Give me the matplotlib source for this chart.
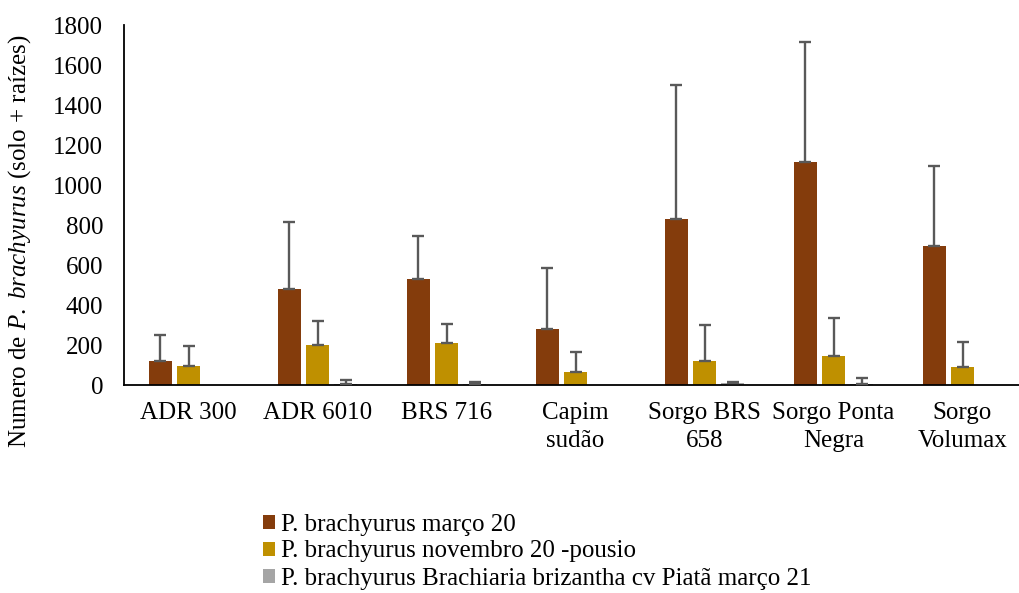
import matplotlib.pyplot as plt
import numpy as np

plt.rcParams['font.family'] = ['Liberation Serif', 'DejaVu Serif']
plt.rcParams['mathtext.fontset'] = 'custom'
plt.rcParams['mathtext.rm'] = 'Liberation Serif'
plt.rcParams['mathtext.it'] = 'Liberation Serif:italic'

# cultivares
categorias = ['ADR 300', 'ADR 6010', 'BRS 716', 'Capim\nsudão',
              'Sorgo BRS\n658', 'Sorgo Ponta\nNegra', 'Sorgo\nVolumax']

# médias e desvios (parte superior) de cada avaliação
marco20 = [120, 480, 528, 280, 832, 1115, 697]
marco20_erro = [130, 335, 215, 305, 668, 600, 398]
nov20 = [95, 200, 210, 65, 120, 143, 90]
nov20_erro = [100, 120, 93, 100, 182, 190, 127]
piata21 = [0, 5, 5, 0, 10, 5, 0]
piata21_erro = [0, 18, 12, 0, 6, 28, 0]

series = [
    ('P. brachyurus março 20', marco20, marco20_erro, '#843C0C'),
    ('P. brachyurus novembro 20 -pousio', nov20, nov20_erro, '#BF9000'),
    ('P. brachyurus Brachiaria brizantha cv Piatã março 21', piata21, piata21_erro, '#A5A5A5'),
]

fig = plt.figure(figsize=(10.19, 5.93), dpi=100)
W, H = 1019, 593
ax = fig.add_axes([124 / W, 1 - 385 / H, (1027 - 124) / W, (385 - 25) / H])

x = np.arange(len(categorias))
passo = 0.218
largura = 0.178
for i, (nome, vals, erro, cor) in enumerate(series):
    pos = x + (i - 1) * passo
    ax.bar(pos, vals, width=largura, color=cor, label=nome, zorder=2)
    vals = np.array(vals)
    erro = np.array(erro)
    mask = (vals > 0) | (erro > 0)
    ax.errorbar(pos[mask], vals[mask],
                yerr=[np.zeros(mask.sum()), erro[mask]],
                fmt='none', ecolor='#595959', elinewidth=1.7,
                capsize=4, capthick=1.7, zorder=3)

ax.set_xlim(-0.5, 6.5)
ax.set_ylim(0, 1800)
ax.set_yticks(range(0, 1801, 200))
ax.set_xticks(x)
ax.set_xticklabels(categorias, fontsize=18, linespacing=1.4)
ax.tick_params(axis='y', labelsize=18, length=0, pad=15)
ax.tick_params(axis='x', length=0, pad=12)

for s in ['top', 'right']:
    ax.spines[s].set_visible(False)
ax.spines['left'].set_linewidth(1.3)
ax.spines['bottom'].set_linewidth(1.3)

fig.text(20 / W, 1 - 241 / H,
         r'Numero de $\mathit{P.\ brachyurus}$ (solo + raízes)',
         rotation=90, ha='center', va='center', fontsize=18)

fig.legend(loc='upper left', bbox_to_anchor=(250 / W, 1 - 501 / H),
           frameon=False, fontsize=18, handlelength=0.5, handleheight=0.5,
           handletextpad=0.25, labelspacing=0.2, borderpad=0)

fig.savefig('out.png', dpi=100)
